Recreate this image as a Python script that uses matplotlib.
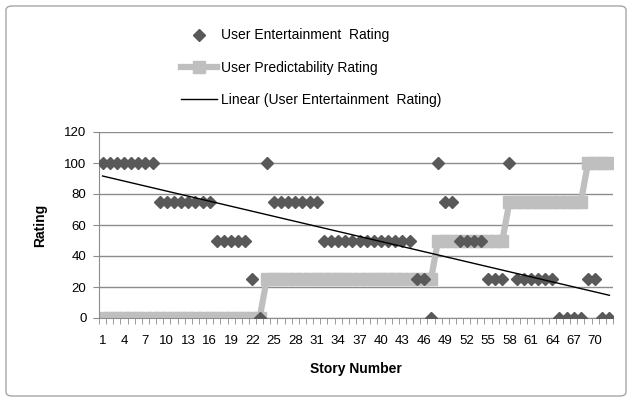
import matplotlib
matplotlib.use("Agg")
import matplotlib.pyplot as plt
import numpy as np
from matplotlib.patches import FancyBboxPatch

# story numbers 1..72
stories = list(range(1, 73))

# user entertainment rating
entertainment = ([100] * 8 + [75] * 8 + [50] * 5 + [25, 0, 100] + [75] * 7
                 + [50] * 13 + [25, 25, 0, 100, 75, 75] + [50] * 4
                 + [25] * 3 + [100] + [25] * 6 + [0] * 4 + [25, 25, 0, 0])

# user predictability rating
predictability = [0] * 23 + [25] * 24 + [50] * 10 + [75] * 11 + [100] * 4

tick_labels = [str(s) for s in stories if (s - 1) % 3 == 0]

plt.rcParams["font.family"] = ["Liberation Sans", "DejaVu Sans"]

fig = plt.figure(figsize=(6.33, 4.01), dpi=100)
ax = fig.add_axes([99 / 633, 1 - 318 / 401, 514 / 633, 186 / 401])

x = np.array(stories)
y = np.array(entertainment)
slope, icpt = np.polyfit(x, y, 1)

ax.plot(x, predictability, color="#bfbfbf", lw=4.5, marker="s", ms=8.5,
        mec="#bfbfbf", mfc="#bfbfbf", zorder=2,
        label="User Predictability Rating")
ax.plot(x, y, ls="none", marker="D", ms=6, color="#595959", zorder=3,
        label="User Entertainment  Rating")
ax.plot(x, slope * x + icpt, color="black", lw=1, zorder=4,
        label="Linear (User Entertainment  Rating)")

ax.set_xlim(0.5, 72.5)
ax.set_ylim(0, 120)
ax.set_yticks(range(0, 121, 20))
ax.grid(axis="y", color="#8c8c8c", lw=1)
ax.set_axisbelow(True)
ax.set_xticks([s for s in stories if (s - 1) % 3 == 0])
ax.set_xticklabels(tick_labels)
ax.set_xticks(np.arange(0.5, 73, 1), minor=True)
ax.tick_params(axis="x", which="major", length=0, labelsize=9.5, pad=12)
ax.tick_params(axis="x", which="minor", length=4, color="#8c8c8c", direction="out")
ax.tick_params(axis="y", length=4, color="#8c8c8c", labelsize=9.5, pad=5)
for s in ["top", "right"]:
    ax.spines[s].set_visible(False)
ax.spines["left"].set_color("#8c8c8c")
ax.spines["bottom"].set_color("#8c8c8c")

ax.set_xlabel("Story Number", fontweight="bold", fontsize=10, labelpad=11)
ax.set_ylabel("Rating", fontweight="bold", fontsize=10, labelpad=12)

h, l = ax.get_legend_handles_labels()
order = [1, 0, 2]
fig.legend([h[i] for i in order], [l[i] for i in order],
           loc="upper left", bbox_to_anchor=(168 / 633, 1 - 16 / 401),
           frameon=False, fontsize=10, labelspacing=1.3, handlelength=2.6,
           handletextpad=0.3)

fig.patches.append(FancyBboxPatch((6 / 633, 5 / 401), 620 / 633, 390 / 401,
                                  boxstyle="round,pad=0,rounding_size=0.01",
                                  transform=fig.transFigure, fill=False,
                                  ec="#a6a6a6", lw=1))

fig.savefig("out.png", dpi=100)
